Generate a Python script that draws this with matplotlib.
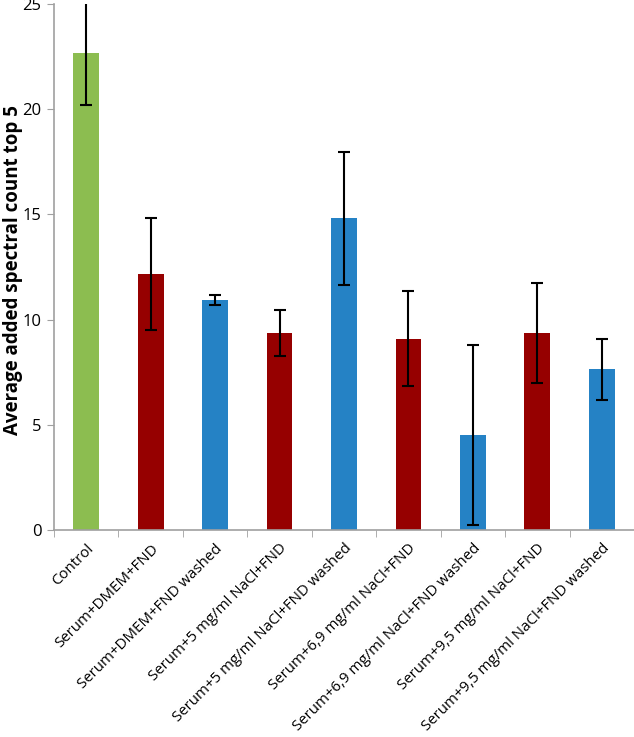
import numpy as np
import matplotlib
matplotlib.use("Agg")
from matplotlib import pyplot as plt

# data
labels = ["Control", "Serum+DMEM+FND", "Serum+DMEM+FND washed",
          "Serum+5 mg/ml NaCl+FND", "Serum+5 mg/ml NaCl+FND washed",
          "Serum+6,9 mg/ml NaCl+FND", "Serum+6,9 mg/ml NaCl+FND washed",
          "Serum+9,5 mg/ml NaCl+FND", "Serum+9,5 mg/ml NaCl+FND washed"]
means = [22.65, 12.16, 10.93, 9.36, 14.81, 9.10, 4.51, 9.36, 7.65]
errs = [2.46, 2.65, 0.24, 1.09, 3.15, 2.24, 4.26, 2.38, 1.45]
colors = ["#8cbd50", "#960000", "#2582c5", "#960000", "#2582c5",
          "#960000", "#2582c5", "#960000", "#2582c5"]
yticks = [0, 5, 10, 15, 20, 25]

plt.rcParams['font.family'] = ['Open Sans', 'DejaVu Sans']

fig = plt.figure(figsize=(6.34, 7.37), dpi=100)
ax = fig.add_axes([0.0852, 0.2809, 0.9148, 0.7137])

x = np.arange(len(labels))
ax.bar(x, means, width=0.4, color=colors, zorder=2)
ax.errorbar(x, means, yerr=errs, fmt='none', ecolor='black',
            elinewidth=1.5, capsize=4, capthick=1.5, zorder=3)

ax.set_xlim(-0.5, len(labels) - 0.5)
ax.set_ylim(0, 25)
ax.set_yticks(yticks)
ax.tick_params(axis='y', labelsize=12, length=5, color='#a0a0a0', pad=4)

# category ticks between bars, labels at centres
ax.set_xticks(x)
ax.set_xticks(np.arange(-0.5, len(labels), 1.0), minor=True)
ax.tick_params(axis='x', which='major', length=0, pad=8)
ax.tick_params(axis='x', which='minor', length=5, color='#a0a0a0')
ax.set_xticklabels(labels, rotation=45, ha='right', rotation_mode='anchor',
                   fontsize=10.8)

for s in ['top', 'right']:
    ax.spines[s].set_visible(False)
for s in ['left', 'bottom']:
    ax.spines[s].set_color('#a0a0a0')
    ax.spines[s].set_linewidth(1.2)

# y label placed by hand so it is not clipped at the left edge
fig.text(13 / 634, 1 - 270 / 737, "Average added spectral count top 5",
         rotation=90, ha='center', va='center', fontsize=13.5,
         fontweight='bold')

fig.savefig("out.png", dpi=100)
